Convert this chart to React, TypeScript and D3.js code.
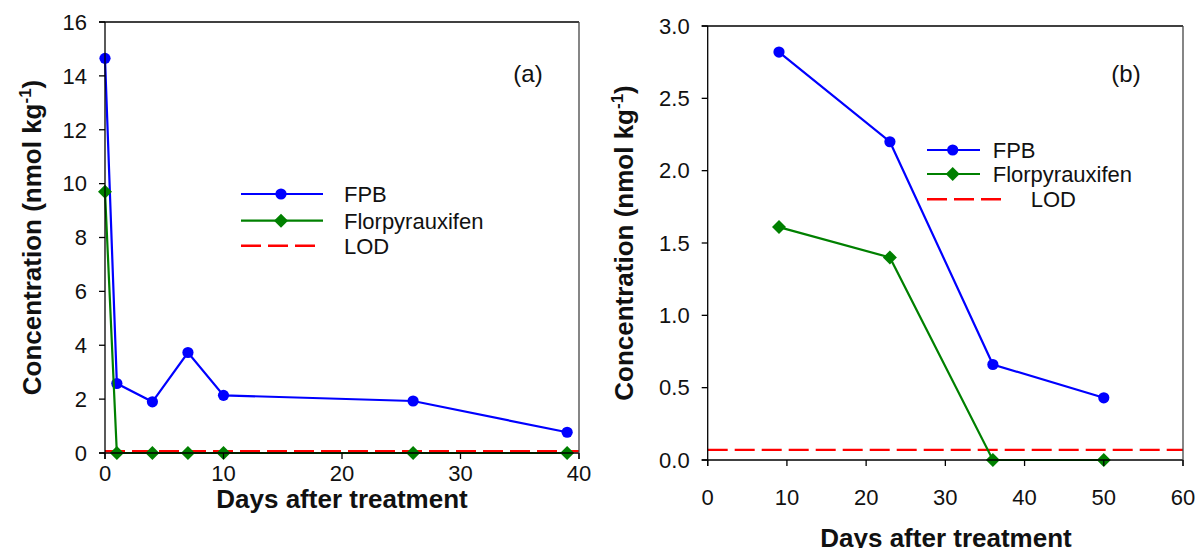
import React from "react";
import * as d3 from "d3";

const daysA = [0, 1, 4, 7, 10, 26, 39];
const fpbA = [14.65, 2.58, 1.9, 3.73, 2.14, 1.93, 0.77];
const florA = [9.7, 0, 0, 0, 0, 0, 0];
const xTicksA = [0, 10, 20, 30, 40];
const yTicksA = [0, 2, 4, 6, 8, 10, 12, 14, 16];

const daysB = [9, 23, 36, 50];
const fpbB = [2.82, 2.2, 0.66, 0.43];
const florB = [1.61, 1.4, 0, 0];
const xTicksB = [0, 10, 20, 30, 40, 50, 60];
const yTicksB = [0, 0.5, 1.0, 1.5, 2.0, 2.5, 3.0];

const LOD = 0.07;
const seriesNames = ["FPB", "Florpyrauxifen", "LOD"];

const FONT = "'Liberation Sans', Arial, sans-serif";
const BLUE = "#0000ff";
const GREEN = "#008000";
const RED = "#ff0000";
const FS = 22;

type PanelProps = {
  days: number[];
  fpb: number[];
  flor: number[];
  xTicks: number[];
  yTicks: number[];
  yFmt: (v: number) => string;
  xr: [number, number];
  yr: [number, number];
  label: string;
  labelPos: [number, number];
  legend: { x0: number; x1: number; xm: number; rows: number[]; tx: number; lodTx: number; lodX1: number };
  yTitleX: number;
  xTickDy: number;
  xTitle: [number, number];
};

function diamond(cx: number, cy: number, r: number) {
  return `M${cx},${cy - r}L${cx + r},${cy}L${cx},${cy + r}L${cx - r},${cy}Z`;
}

function Panel(p: PanelProps) {
  const x = d3.scaleLinear().domain([p.xTicks[0], p.xTicks[p.xTicks.length - 1]]).range(p.xr);
  const y = d3.scaleLinear().domain([p.yTicks[0], p.yTicks[p.yTicks.length - 1]]).range(p.yr);
  const line = d3
    .line<[number, number]>()
    .x((d) => x(d[0]))
    .y((d) => y(d[1]));
  const fpbPts = p.days.map((d, i) => [d, p.fpb[i]] as [number, number]);
  const florPts = p.days.map((d, i) => [d, p.flor[i]] as [number, number]);
  const [xl, xrr] = p.xr;
  const [yb, yt] = p.yr;
  const tl = 6;
  const L = p.legend;
  const yMid = (yb + yt) / 2;
  return (
    <g fontFamily={FONT}>
      {/* LOD */}
      <line x1={xl} x2={xrr} y1={y(LOD)} y2={y(LOD)} stroke={RED} strokeWidth={2.4} strokeDasharray="20,7" />
      {/* FPB */}
      <path d={line(fpbPts) || ""} fill="none" stroke={BLUE} strokeWidth={2.2} />
      {fpbPts.map((d, i) => (
        <circle key={i} cx={x(d[0])} cy={y(d[1])} r={5.6} fill={BLUE} />
      ))}
      {/* Florpyrauxifen */}
      <path d={line(florPts) || ""} fill="none" stroke={GREEN} strokeWidth={2.2} />
      {florPts.map((d, i) => (
        <path key={i} d={diamond(x(d[0]), y(d[1]), 7)} fill={GREEN} />
      ))}
      {/* frame */}
      <line x1={xl} x2={xl} y1={yt} y2={yb + tl} stroke="#000" strokeWidth={1.3} />
      <line x1={xl - tl} x2={xrr} y1={yb} y2={yb} stroke="#000" strokeWidth={1.3} />
      <line x1={xl - tl} x2={xrr} y1={yt} y2={yt} stroke="#000" strokeWidth={1.3} />
      <line x1={xrr} x2={xrr} y1={yt} y2={yb + tl} stroke="#444" strokeWidth={1.3} />
      {p.yTicks.map((t) => (
        <g key={"y" + t}>
          <line x1={xl - tl} x2={xl} y1={y(t)} y2={y(t)} stroke="#000" strokeWidth={1.3} />
          <text x={xl - 18} y={y(t) + 7.8} textAnchor="end" fontSize={FS} fill="#111">
            {p.yFmt(t)}
          </text>
        </g>
      ))}
      {p.xTicks.map((t) => (
        <g key={"x" + t}>
          <line x1={x(t)} x2={x(t)} y1={yb} y2={yb + tl} stroke="#000" strokeWidth={1.3} />
          <text x={x(t)} y={yb + p.xTickDy} textAnchor="middle" fontSize={FS} fill="#111">
            {t}
          </text>
        </g>
      ))}
      <text x={p.labelPos[0]} y={p.labelPos[1]} textAnchor="middle" fontSize={24} fill="#111">
        {p.label}
      </text>
      {/* legend */}
      <line x1={L.x0} x2={L.x1} y1={L.rows[0]} y2={L.rows[0]} stroke={BLUE} strokeWidth={2.2} />
      <circle cx={L.xm} cy={L.rows[0]} r={5.6} fill={BLUE} />
      <line x1={L.x0} x2={L.x1} y1={L.rows[1]} y2={L.rows[1]} stroke={GREEN} strokeWidth={2.2} />
      <path d={diamond(L.xm, L.rows[1], 7)} fill={GREEN} />
      <line x1={L.x0} x2={L.lodX1} y1={L.rows[2]} y2={L.rows[2]} stroke={RED} strokeWidth={2.4} strokeDasharray="20,7" />
      <text x={L.tx} y={L.rows[0] + 7.8} fontSize={FS} fill="#111">{seriesNames[0]}</text>
      <text x={L.tx} y={L.rows[1] + 7.8} fontSize={FS} fill="#111">{seriesNames[1]}</text>
      <text x={L.lodTx} y={L.rows[2] + 7.8} fontSize={FS} fill="#111">{seriesNames[2]}</text>
      {/* titles */}
      <text
        transform={`translate(${p.yTitleX},${yMid}) rotate(-90)`}
        textAnchor="middle"
        fontSize={26}
        fontWeight="bold"
        fill="#111"
      >
        Concentration (nmol kg
        <tspan fontSize={17} dy={-10}>-1</tspan>
        <tspan dy={10}>)</tspan>
      </text>
      <text x={p.xTitle[0]} y={p.xTitle[1]} textAnchor="middle" fontSize={26} fontWeight="bold" fill="#111">
        Days after treatment
      </text>
    </g>
  );
}

export default function App() {
  return (
    <svg
      width={1197}
      height={548}
      style={{ position: "absolute", left: 0, top: 0, background: "#fff" }}
    >
      <rect width={1197} height={548} fill="#fff" />
      <Panel
        days={daysA}
        fpb={fpbA}
        flor={florA}
        xTicks={xTicksA}
        yTicks={yTicksA}
        yFmt={(v) => String(v)}
        xr={[105, 579]}
        yr={[453, 22]}
        label="(a)"
        labelPos={[528, 82]}
        legend={{ x0: 241, x1: 323, xm: 281, rows: [194, 220.7, 245.7], tx: 344, lodTx: 344, lodX1: 315 }}
        yTitleX={41}
        xTickDy={28}
        xTitle={[342, 508]}
      />
      <Panel
        days={daysB}
        fpb={fpbB}
        flor={florB}
        xTicks={xTicksB}
        yTicks={yTicksB}
        yFmt={(v) => v.toFixed(1)}
        xr={[707.7, 1183]}
        yr={[460, 26]}
        label="(b)"
        labelPos={[1126, 82]}
        legend={{ x0: 927, x1: 980, xm: 952.7, rows: [150, 174, 199.3], tx: 992.7, lodTx: 1030.7, lodX1: 1001 }}
        yTitleX={633}
        xTickDy={45}
        xTitle={[946, 547]}
      />
    </svg>
  );
}
